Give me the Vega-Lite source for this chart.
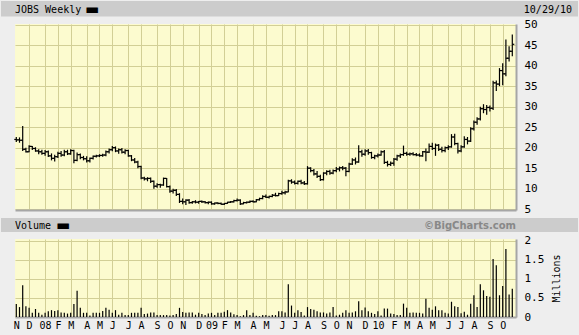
{
  "$schema": "https://vega.github.io/schema/vega-lite/v6.json",
  "background": "#eeeeee",
  "padding": {"left": 1, "top": 1, "right": 1, "bottom": 7},
  "config": {
    "view": {"stroke": null},
    "axis": {"labelFont": "DejaVu Sans Mono", "titleFont": "DejaVu Sans Mono", "labelColor": "#000000", "titleColor": "#000000", "gridColor": "#d2cf96", "gridWidth": 1, "domainColor": "#a6a6a6", "domainWidth": 2}
  },
  "datasets": {
    "jobs": [
      {"date":"2007-11-09","open":22.0,"high":22.6,"low":21.4,"close":21.9,"volume":340000},
      {"date":"2007-11-16","open":21.9,"high":22.5,"low":21.2,"close":21.8,"volume":260000},
      {"date":"2007-11-23","open":21.8,"high":25.3,"low":19.2,"close":19.6,"volume":830000},
      {"date":"2007-11-30","open":19.6,"high":20.0,"low":18.8,"close":19.0,"volume":280000},
      {"date":"2007-12-07","open":19.0,"high":20.6,"low":18.9,"close":20.3,"volume":240000},
      {"date":"2007-12-14","open":20.3,"high":20.4,"low":19.4,"close":19.8,"volume":110000},
      {"date":"2007-12-21","open":19.8,"high":20.1,"low":19.0,"close":19.2,"volume":210000},
      {"date":"2007-12-28","open":19.2,"high":19.6,"low":18.4,"close":19.0,"volume":110000},
      {"date":"2008-01-04","open":19.0,"high":19.5,"low":18.3,"close":18.6,"volume":60000},
      {"date":"2008-01-11","open":18.6,"high":19.4,"low":18.0,"close":19.0,"volume":110000},
      {"date":"2008-01-18","open":19.0,"high":19.3,"low":17.7,"close":18.0,"volume":150000},
      {"date":"2008-01-25","open":18.0,"high":18.6,"low":16.9,"close":17.4,"volume":180000},
      {"date":"2008-02-01","open":17.4,"high":18.3,"low":16.6,"close":17.8,"volume":160000},
      {"date":"2008-02-08","open":17.8,"high":19.0,"low":17.5,"close":18.6,"volume":180000},
      {"date":"2008-02-15","open":18.6,"high":19.2,"low":17.8,"close":18.2,"volume":120000},
      {"date":"2008-02-22","open":18.2,"high":19.5,"low":17.9,"close":19.0,"volume":110000},
      {"date":"2008-02-29","open":19.0,"high":19.5,"low":18.2,"close":18.5,"volume":90000},
      {"date":"2008-03-07","open":18.5,"high":19.6,"low":18.3,"close":19.3,"volume":110000},
      {"date":"2008-03-14","open":19.3,"high":19.5,"low":16.2,"close":16.9,"volume":340000},
      {"date":"2008-03-21","open":16.9,"high":18.8,"low":16.7,"close":18.3,"volume":690000},
      {"date":"2008-03-28","open":18.3,"high":18.6,"low":17.2,"close":17.6,"volume":240000},
      {"date":"2008-04-04","open":17.6,"high":18.0,"low":16.9,"close":17.3,"volume":110000},
      {"date":"2008-04-11","open":17.3,"high":17.9,"low":16.4,"close":16.8,"volume":110000},
      {"date":"2008-04-18","open":16.8,"high":17.6,"low":16.4,"close":17.4,"volume":40000},
      {"date":"2008-04-25","open":17.4,"high":18.1,"low":17.1,"close":17.9,"volume":110000},
      {"date":"2008-05-02","open":17.9,"high":18.3,"low":17.6,"close":18.0,"volume":110000},
      {"date":"2008-05-09","open":18.0,"high":18.4,"low":17.7,"close":18.1,"volume":110000},
      {"date":"2008-05-16","open":18.1,"high":18.5,"low":17.8,"close":18.2,"volume":160000},
      {"date":"2008-05-23","open":18.2,"high":19.3,"low":17.9,"close":19.0,"volume":240000},
      {"date":"2008-05-30","open":19.0,"high":19.8,"low":18.6,"close":19.5,"volume":190000},
      {"date":"2008-06-06","open":19.5,"high":20.4,"low":19.1,"close":20.0,"volume":110000},
      {"date":"2008-06-13","open":20.0,"high":20.3,"low":18.9,"close":19.2,"volume":180000},
      {"date":"2008-06-20","open":19.2,"high":19.8,"low":18.5,"close":19.5,"volume":60000},
      {"date":"2008-06-27","open":19.5,"high":19.9,"low":18.6,"close":18.9,"volume":110000},
      {"date":"2008-07-04","open":18.9,"high":19.6,"low":18.4,"close":19.3,"volume":50000},
      {"date":"2008-07-11","open":19.3,"high":19.5,"low":17.8,"close":18.0,"volume":50000},
      {"date":"2008-07-18","open":18.0,"high":18.2,"low":16.7,"close":17.0,"volume":110000},
      {"date":"2008-07-25","open":17.0,"high":17.5,"low":16.2,"close":16.5,"volume":110000},
      {"date":"2008-08-01","open":16.5,"high":16.8,"low":15.0,"close":15.4,"volume":110000},
      {"date":"2008-08-08","open":15.4,"high":15.6,"low":12.3,"close":12.6,"volume":240000},
      {"date":"2008-08-15","open":12.6,"high":12.9,"low":12.0,"close":12.4,"volume":80000},
      {"date":"2008-08-22","open":12.4,"high":12.8,"low":11.8,"close":12.5,"volume":90000},
      {"date":"2008-08-29","open":12.5,"high":12.7,"low":11.4,"close":11.8,"volume":120000},
      {"date":"2008-09-05","open":11.8,"high":12.0,"low":10.0,"close":10.6,"volume":120000},
      {"date":"2008-09-12","open":10.6,"high":11.3,"low":10.2,"close":11.0,"volume":50000},
      {"date":"2008-09-19","open":11.0,"high":11.2,"low":10.2,"close":10.9,"volume":50000},
      {"date":"2008-09-26","open":10.9,"high":12.7,"low":10.7,"close":12.5,"volume":50000},
      {"date":"2008-10-03","open":12.5,"high":12.6,"low":10.3,"close":10.5,"volume":50000},
      {"date":"2008-10-10","open":10.5,"high":10.8,"low":9.0,"close":9.4,"volume":40000},
      {"date":"2008-10-17","open":9.4,"high":10.0,"low":8.8,"close":9.6,"volume":50000},
      {"date":"2008-10-24","open":9.6,"high":9.9,"low":8.2,"close":8.6,"volume":80000},
      {"date":"2008-10-31","open":8.6,"high":8.9,"low":6.5,"close":6.9,"volume":240000},
      {"date":"2008-11-07","open":6.9,"high":7.6,"low":6.2,"close":6.8,"volume":130000},
      {"date":"2008-11-14","open":6.8,"high":7.4,"low":6.0,"close":7.2,"volume":110000},
      {"date":"2008-11-21","open":7.2,"high":7.5,"low":6.3,"close":6.6,"volume":120000},
      {"date":"2008-11-28","open":6.6,"high":7.0,"low":6.3,"close":6.8,"volume":120000},
      {"date":"2008-12-05","open":6.8,"high":7.2,"low":6.4,"close":6.7,"volume":60000},
      {"date":"2008-12-12","open":6.7,"high":7.0,"low":6.3,"close":6.9,"volume":110000},
      {"date":"2008-12-19","open":6.9,"high":7.1,"low":6.5,"close":6.8,"volume":80000},
      {"date":"2008-12-26","open":6.8,"high":7.0,"low":6.4,"close":6.6,"volume":50000},
      {"date":"2009-01-02","open":6.6,"high":6.9,"low":6.2,"close":6.7,"volume":90000},
      {"date":"2009-01-09","open":6.7,"high":6.9,"low":6.1,"close":6.3,"volume":110000},
      {"date":"2009-01-16","open":6.3,"high":6.6,"low":6.1,"close":6.5,"volume":50000},
      {"date":"2009-01-23","open":6.5,"high":6.7,"low":6.2,"close":6.4,"volume":110000},
      {"date":"2009-01-30","open":6.4,"high":6.6,"low":6.1,"close":6.2,"volume":110000},
      {"date":"2009-02-06","open":6.2,"high":6.5,"low":6.0,"close":6.4,"volume":140000},
      {"date":"2009-02-13","open":6.4,"high":6.8,"low":6.3,"close":6.7,"volume":180000},
      {"date":"2009-02-20","open":6.7,"high":7.0,"low":6.5,"close":6.8,"volume":120000},
      {"date":"2009-02-27","open":6.8,"high":7.3,"low":6.6,"close":7.1,"volume":70000},
      {"date":"2009-03-06","open":7.1,"high":7.6,"low":6.9,"close":7.2,"volume":50000},
      {"date":"2009-03-13","open":7.2,"high":7.4,"low":6.0,"close":6.3,"volume":20000},
      {"date":"2009-03-20","open":6.3,"high":6.8,"low":6.2,"close":6.6,"volume":50000},
      {"date":"2009-03-27","open":6.6,"high":6.9,"low":6.4,"close":6.7,"volume":180000},
      {"date":"2009-04-03","open":6.7,"high":7.1,"low":6.5,"close":6.9,"volume":50000},
      {"date":"2009-04-10","open":6.9,"high":7.2,"low":6.6,"close":6.8,"volume":110000},
      {"date":"2009-04-17","open":6.8,"high":7.5,"low":6.7,"close":7.3,"volume":30000},
      {"date":"2009-04-24","open":7.3,"high":7.8,"low":7.1,"close":7.6,"volume":20000},
      {"date":"2009-05-01","open":7.6,"high":8.4,"low":7.4,"close":8.1,"volume":50000},
      {"date":"2009-05-08","open":8.1,"high":8.6,"low":7.7,"close":7.9,"volume":50000},
      {"date":"2009-05-15","open":7.9,"high":8.3,"low":7.6,"close":8.1,"volume":30000},
      {"date":"2009-05-22","open":8.1,"high":8.7,"low":7.9,"close":8.4,"volume":50000},
      {"date":"2009-05-29","open":8.4,"high":9.0,"low":8.1,"close":8.3,"volume":50000},
      {"date":"2009-06-05","open":8.3,"high":9.0,"low":8.2,"close":8.8,"volume":150000},
      {"date":"2009-06-12","open":8.8,"high":9.5,"low":8.5,"close":9.0,"volume":150000},
      {"date":"2009-06-19","open":9.0,"high":9.5,"low":8.6,"close":9.2,"volume":120000},
      {"date":"2009-06-26","open":9.2,"high":12.2,"low":9.1,"close":11.9,"volume":860000},
      {"date":"2009-07-03","open":11.9,"high":12.3,"low":11.2,"close":11.6,"volume":300000},
      {"date":"2009-07-10","open":11.6,"high":12.0,"low":11.0,"close":11.3,"volume":110000},
      {"date":"2009-07-17","open":11.3,"high":12.0,"low":11.0,"close":11.8,"volume":180000},
      {"date":"2009-07-24","open":11.8,"high":12.2,"low":11.1,"close":11.4,"volume":130000},
      {"date":"2009-07-31","open":11.4,"high":11.9,"low":10.9,"close":11.2,"volume":40000},
      {"date":"2009-08-07","open":11.2,"high":15.5,"low":11.0,"close":15.0,"volume":260000},
      {"date":"2009-08-14","open":15.0,"high":15.2,"low":14.0,"close":14.4,"volume":210000},
      {"date":"2009-08-21","open":14.4,"high":14.8,"low":13.2,"close":13.6,"volume":190000},
      {"date":"2009-08-28","open":13.6,"high":14.3,"low":12.6,"close":13.0,"volume":150000},
      {"date":"2009-09-04","open":13.0,"high":13.4,"low":11.9,"close":12.2,"volume":120000},
      {"date":"2009-09-11","open":12.2,"high":14.0,"low":12.0,"close":13.8,"volume":120000},
      {"date":"2009-09-18","open":13.8,"high":14.5,"low":13.3,"close":14.2,"volume":90000},
      {"date":"2009-09-25","open":14.2,"high":14.6,"low":13.4,"close":13.8,"volume":120000},
      {"date":"2009-10-02","open":13.8,"high":14.7,"low":13.5,"close":14.4,"volume":260000},
      {"date":"2009-10-09","open":14.4,"high":15.3,"low":14.0,"close":14.8,"volume":40000},
      {"date":"2009-10-16","open":14.8,"high":15.4,"low":14.2,"close":15.1,"volume":60000},
      {"date":"2009-10-23","open":15.1,"high":15.5,"low":14.5,"close":15.0,"volume":110000},
      {"date":"2009-10-30","open":15.0,"high":15.3,"low":13.0,"close":14.2,"volume":180000},
      {"date":"2009-11-06","open":14.2,"high":16.3,"low":14.0,"close":16.0,"volume":110000},
      {"date":"2009-11-13","open":16.0,"high":17.4,"low":15.8,"close":17.0,"volume":120000},
      {"date":"2009-11-20","open":17.0,"high":17.6,"low":15.9,"close":16.5,"volume":150000},
      {"date":"2009-11-27","open":16.5,"high":20.6,"low":16.3,"close":19.0,"volume":410000},
      {"date":"2009-12-04","open":19.0,"high":19.5,"low":17.8,"close":18.4,"volume":180000},
      {"date":"2009-12-11","open":18.4,"high":19.6,"low":18.0,"close":19.2,"volume":250000},
      {"date":"2009-12-18","open":19.2,"high":19.7,"low":18.3,"close":18.8,"volume":150000},
      {"date":"2009-12-25","open":18.8,"high":19.0,"low":17.3,"close":17.6,"volume":110000},
      {"date":"2010-01-01","open":17.6,"high":18.3,"low":17.2,"close":18.0,"volume":80000},
      {"date":"2010-01-08","open":18.0,"high":18.6,"low":17.6,"close":18.2,"volume":150000},
      {"date":"2010-01-15","open":18.2,"high":19.3,"low":18.0,"close":19.0,"volume":40000},
      {"date":"2010-01-22","open":19.0,"high":19.4,"low":16.0,"close":16.4,"volume":220000},
      {"date":"2010-01-29","open":16.4,"high":16.8,"low":15.4,"close":15.9,"volume":220000},
      {"date":"2010-02-05","open":15.9,"high":16.6,"low":15.5,"close":16.2,"volume":90000},
      {"date":"2010-02-12","open":16.2,"high":17.5,"low":15.6,"close":17.2,"volume":80000},
      {"date":"2010-02-19","open":17.2,"high":18.3,"low":16.8,"close":18.0,"volume":50000},
      {"date":"2010-02-26","open":18.0,"high":18.6,"low":17.5,"close":18.3,"volume":50000},
      {"date":"2010-03-05","open":18.3,"high":20.5,"low":18.0,"close":18.6,"volume":350000},
      {"date":"2010-03-12","open":18.6,"high":19.0,"low":18.0,"close":18.4,"volume":240000},
      {"date":"2010-03-19","open":18.4,"high":18.8,"low":18.0,"close":18.5,"volume":110000},
      {"date":"2010-03-26","open":18.5,"high":18.9,"low":18.1,"close":18.3,"volume":120000},
      {"date":"2010-04-02","open":18.3,"high":18.7,"low":17.9,"close":18.2,"volume":110000},
      {"date":"2010-04-09","open":18.2,"high":18.6,"low":17.8,"close":18.0,"volume":110000},
      {"date":"2010-04-16","open":18.0,"high":19.2,"low":17.8,"close":19.0,"volume":90000},
      {"date":"2010-04-23","open":19.0,"high":19.8,"low":16.7,"close":18.9,"volume":480000},
      {"date":"2010-04-30","open":18.9,"high":21.0,"low":18.7,"close":20.3,"volume":240000},
      {"date":"2010-05-07","open":20.3,"high":21.2,"low":19.4,"close":19.8,"volume":190000},
      {"date":"2010-05-14","open":19.8,"high":21.0,"low":18.0,"close":20.6,"volume":280000},
      {"date":"2010-05-21","open":20.6,"high":20.9,"low":19.2,"close":19.6,"volume":180000},
      {"date":"2010-05-28","open":19.6,"high":20.2,"low":18.8,"close":19.3,"volume":180000},
      {"date":"2010-06-04","open":19.3,"high":20.3,"low":18.9,"close":20.0,"volume":110000},
      {"date":"2010-06-11","open":20.0,"high":20.6,"low":19.4,"close":20.2,"volume":90000},
      {"date":"2010-06-18","open":20.2,"high":23.3,"low":20.0,"close":22.6,"volume":400000},
      {"date":"2010-06-25","open":22.6,"high":23.4,"low":20.6,"close":21.0,"volume":280000},
      {"date":"2010-07-02","open":21.0,"high":21.2,"low":18.6,"close":19.2,"volume":260000},
      {"date":"2010-07-09","open":19.2,"high":20.6,"low":18.9,"close":20.2,"volume":100000},
      {"date":"2010-07-16","open":20.2,"high":22.8,"low":20.0,"close":22.0,"volume":140000},
      {"date":"2010-07-23","open":22.0,"high":22.6,"low":20.8,"close":21.6,"volume":60000},
      {"date":"2010-07-30","open":21.6,"high":25.0,"low":21.4,"close":24.6,"volume":350000},
      {"date":"2010-08-06","open":24.6,"high":26.6,"low":24.2,"close":26.2,"volume":570000},
      {"date":"2010-08-13","open":26.2,"high":27.4,"low":25.6,"close":27.0,"volume":260000},
      {"date":"2010-08-20","open":27.0,"high":30.0,"low":26.6,"close":29.5,"volume":860000},
      {"date":"2010-08-27","open":29.5,"high":30.6,"low":28.4,"close":29.3,"volume":700000},
      {"date":"2010-09-03","open":29.3,"high":30.4,"low":28.0,"close":29.8,"volume":550000},
      {"date":"2010-09-10","open":29.8,"high":30.3,"low":28.8,"close":29.6,"volume":530000},
      {"date":"2010-09-17","open":29.6,"high":36.3,"low":29.2,"close":35.8,"volume":1520000},
      {"date":"2010-09-24","open":35.8,"high":36.4,"low":33.8,"close":35.5,"volume":1360000},
      {"date":"2010-10-01","open":35.5,"high":39.4,"low":35.0,"close":38.8,"volume":570000},
      {"date":"2010-10-08","open":38.8,"high":40.6,"low":35.2,"close":38.0,"volume":810000},
      {"date":"2010-10-15","open":38.0,"high":46.4,"low":37.4,"close":41.8,"volume":1780000},
      {"date":"2010-10-22","open":41.8,"high":44.7,"low":41.0,"close":43.5,"volume":590000},
      {"date":"2010-10-29","open":43.5,"high":47.6,"low":42.3,"close":45.2,"volume":740000}
    ]
  },
  "columns": 1,
  "bounds": "full",
  "spacing": 1,
  "concat": [
    {
      "width": 563,
      "height": 15.5,
      "view": {"fill": null, "stroke": null},
      "data": {"values": [{"left": "JOBS Weekly", "mark": "▬", "right": "10/29/10"}]},
      "encoding": {
        "x": {"datum": 0, "type": "quantitative", "scale": {"domain": [0, 1], "range": [-14, 563], "nice": false, "zero": false}, "axis": null},
        "y": {"datum": 0.5, "type": "quantitative", "scale": {"domain": [0, 1], "nice": false, "zero": false}, "axis": null}
      },
      "layer": [
        {
          "mark": {"type": "rect", "color": "#cccccc"},
          "encoding": {"x": {"datum": 0, "type": "quantitative"}, "x2": {"datum": 1}, "y": {"datum": 0, "type": "quantitative"}, "y2": {"datum": 1}}
        },
        {
          "mark": {"type": "text", "align": "left", "baseline": "middle", "dx": 14, "dy": 1, "font": "DejaVu Sans Mono", "fontSize": 10, "color": "#000000"},
          "encoding": {"text": {"field": "left"}}
        },
        {
          "mark": {"type": "text", "align": "left", "baseline": "middle", "dx": 84, "dy": 0, "font": "DejaVu Sans", "fontSize": 15, "color": "#000000"},
          "encoding": {"text": {"field": "mark"}}
        },
        {
          "mark": {"type": "text", "align": "right", "baseline": "middle", "dx": -6, "dy": 1, "font": "DejaVu Sans Mono", "fontSize": 10, "color": "#000000"},
          "encoding": {"x": {"datum": 1, "type": "quantitative"}, "text": {"field": "right"}}
        }
      ]
    },
    {
      "width": 501,
      "height": 186,
      "view": {"fill": "#fcfbcf", "stroke": null},
      "data": {"name": "jobs"},
      "encoding": {
        "x": {"field": "date", "type": "temporal", "scale": {"domain": [1194321024000, 1289010240000], "nice": false},
          "axis": {"values": [1196985600000, 1200009600000, 1202428800000, 1204848000000, 1207872000000, 1210291200000, 1212710400000, 1215734400000, 1218153600000, 1221177600000, 1223596800000, 1226016000000, 1229040000000, 1231459200000, 1233878400000, 1236297600000, 1239321600000, 1241740800000, 1244764800000, 1247184000000, 1249603200000, 1252627200000, 1255046400000, 1257465600000, 1260489600000, 1262908800000, 1265932800000, 1268352000000, 1270771200000, 1273190400000, 1276214400000, 1278633600000, 1281052800000, 1284076800000, 1286496000000],
          "grid": true, "labels": false, "ticks": true, "tickColor": "transparent", "tickSize": 5.7, "domain": true, "title": null}}
      },
      "layer": [
        {
          "mark": {"type": "rule", "color": "#000000", "strokeWidth": 1.2},
          "encoding": {
            "y": {"field": "low", "type": "quantitative", "scale": {"domain": [4.8, 50.15], "nice": false, "zero": false},
              "axis": {"orient": "right", "values": [5, 10, 15, 20, 25, 30, 35, 40, 45, 50], "grid": true, "ticks": false, "labelPadding": 8, "labelFontSize": 11, "title": null, "domain": true}},
            "y2": {"field": "high"}
          }
        },
        {
          "mark": {"type": "tick", "orient": "horizontal", "size": 2, "thickness": 1.2, "xOffset": -1, "color": "#000000", "opacity": 1},
          "encoding": {
            "y": {"field": "open", "type": "quantitative", "scale": {"domain": [4.8, 50.15], "nice": false, "zero": false},
              "axis": {"orient": "right", "values": [5, 10, 15, 20, 25, 30, 35, 40, 45, 50], "grid": true, "ticks": false, "labelPadding": 8, "labelFontSize": 11, "title": null, "domain": true}}
          }
        },
        {
          "mark": {"type": "tick", "orient": "horizontal", "size": 2, "thickness": 1.2, "xOffset": 1, "color": "#000000", "opacity": 1},
          "encoding": {
            "y": {"field": "close", "type": "quantitative", "scale": {"domain": [4.8, 50.15], "nice": false, "zero": false},
              "axis": {"orient": "right", "values": [5, 10, 15, 20, 25, 30, 35, 40, 45, 50], "grid": true, "ticks": false, "labelPadding": 8, "labelFontSize": 11, "title": null, "domain": true}}
          }
        }
      ]
    },
    {
      "width": 563,
      "height": 14,
      "view": {"fill": null, "stroke": null},
      "data": {"values": [{"left": "Volume", "mark": "▬", "right": "©BigCharts.com"}]},
      "encoding": {
        "x": {"datum": 0, "type": "quantitative", "scale": {"domain": [0, 1], "range": [-14, 563], "nice": false, "zero": false}, "axis": null},
        "y": {"datum": 0.5, "type": "quantitative", "scale": {"domain": [0, 1], "nice": false, "zero": false}, "axis": null}
      },
      "layer": [
        {
          "mark": {"type": "rect", "color": "#cccccc"},
          "encoding": {"x": {"datum": 0, "type": "quantitative"}, "x2": {"datum": 1}, "y": {"datum": 0, "type": "quantitative"}, "y2": {"datum": 1}}
        },
        {
          "mark": {"type": "text", "align": "left", "baseline": "middle", "dx": 14, "dy": 0.5, "font": "DejaVu Sans Mono", "fontSize": 10, "color": "#000000"},
          "encoding": {"text": {"field": "left"}}
        },
        {
          "mark": {"type": "text", "align": "left", "baseline": "middle", "dx": 55, "dy": 0, "font": "DejaVu Sans", "fontSize": 15, "color": "#000000"},
          "encoding": {"text": {"field": "mark"}}
        },
        {
          "mark": {"type": "text", "align": "right", "baseline": "middle", "dx": -62, "dy": 0.5, "font": "DejaVu Sans", "fontWeight": "bold", "fontSize": 10, "color": "#888888"},
          "encoding": {"x": {"datum": 1, "type": "quantitative"}, "text": {"field": "right"}}
        }
      ]
    },
    {
      "width": 501,
      "height": 78,
      "view": {"fill": "#fcfbcf", "stroke": null},
      "data": {"name": "jobs"},
      "mark": {"type": "rule", "color": "#000000", "strokeWidth": 1.2},
      "encoding": {
        "x": {"field": "date", "type": "temporal", "scale": {"domain": [1194321024000, 1289010240000], "nice": false},
          "axis": {"values": [1194566400000, 1196985600000, 1200009600000, 1202428800000, 1204848000000, 1207872000000, 1210291200000, 1212710400000, 1215734400000, 1218153600000, 1221177600000, 1223596800000, 1226016000000, 1229040000000, 1231459200000, 1233878400000, 1236297600000, 1239321600000, 1241740800000, 1244764800000, 1247184000000, 1249603200000, 1252627200000, 1255046400000, 1257465600000, 1260489600000, 1262908800000, 1265932800000, 1268352000000, 1270771200000, 1273190400000, 1276214400000, 1278633600000, 1281052800000, 1284076800000, 1286496000000],
          "grid": true, "gridOpacity": {"condition": {"test": "datum.value < 1195000000000", "value": 0}, "value": 1},
          "labels": true,
          "labelExpr": "utcFormat(datum.value, '%m') == '01' ? utcFormat(datum.value, '%y') : substring(utcFormat(datum.value, '%b'), 0, 1)",
          "labelFontSize": 10, "labelPadding": 3, "labelOverlap": false, "labelFlush": false,
          "ticks": false, "domain": true, "title": null}},
        "y": {"field": "volume", "type": "quantitative", "scale": {"domain": [0, 2045000], "nice": false},
          "axis": {"orient": "right", "values": [0, 500000, 1000000, 1500000, 2000000], "labelExpr": "format(datum.value / 1000000, '~g')", "grid": true, "ticks": false, "labelPadding": 8, "labelFontSize": 11, "title": "Millions", "titleAngle": 270, "titleFontSize": 10, "titleFontWeight": "normal", "titlePadding": 18, "domain": true}},
        "y2": {"datum": 0}
      }
    }
  ]
}
